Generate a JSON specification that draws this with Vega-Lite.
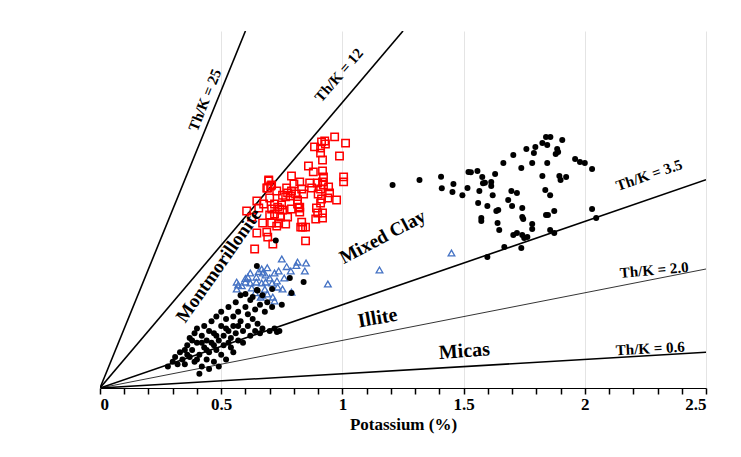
{
  "$schema": "https://vega.github.io/schema/vega-lite/v6.json",
  "width": 606,
  "height": 357,
  "autosize": {"type": "none"},
  "padding": {"left": 100, "top": 31, "right": 35, "bottom": 69},
  "background": "white",
  "config": {"view": {"stroke": null}},
  "datasets": {
    "ygrid": [{"Th":5},{"Th":10},{"Th":15}],
    "black": [
      {"K":1.207,"Th":8.53},{"K":1.318,"Th":8.74},{"K":1.407,"Th":8.88},{"K":1.41,"Th":8.39},{"K":1.458,"Th":8.57},{"K":1.454,"Th":8.24},{"K":1.495,"Th":8.1},{"K":1.516,"Th":8.4},{"K":1.52,"Th":9.08},{"K":1.53,"Th":9.06},{"K":1.557,"Th":9.12},{"K":1.577,"Th":8.87},{"K":1.58,"Th":8.6},{"K":1.588,"Th":8.62},{"K":1.565,"Th":8.28},{"K":1.614,"Th":8.66},{"K":1.63,"Th":8.99},{"K":1.614,"Th":8.49},{"K":1.62,"Th":8.1},{"K":1.56,"Th":7.77},{"K":1.598,"Th":7.65},{"K":1.573,"Th":7.14},{"K":1.573,"Th":7.02},{"K":1.635,"Th":7.44},{"K":1.643,"Th":7.48},{"K":1.64,"Th":6.93},{"K":1.647,"Th":6.64},{"K":1.664,"Th":9.45},{"K":1.705,"Th":9.79},{"K":1.738,"Th":9.24},{"K":1.697,"Th":8.28},{"K":1.72,"Th":8.19},{"K":1.684,"Th":7.9},{"K":1.7,"Th":7.65},{"K":1.742,"Th":7.56},{"K":1.742,"Th":7.18},{"K":1.746,"Th":7.1},{"K":1.705,"Th":6.43},{"K":1.72,"Th":6.51},{"K":1.742,"Th":6.43},{"K":1.75,"Th":6.3},{"K":1.763,"Th":6.34},{"K":1.668,"Th":5.92},{"K":1.598,"Th":5.5},{"K":1.738,"Th":5.88},{"K":1.759,"Th":10.04},{"K":1.79,"Th":9.87},{"K":1.796,"Th":10.13},{"K":1.783,"Th":9.45},{"K":1.825,"Th":10.29},{"K":1.84,"Th":10.55},{"K":1.858,"Th":10.55},{"K":1.845,"Th":10.21},{"K":1.845,"Th":9.45},{"K":1.825,"Th":8.91},{"K":1.837,"Th":8.32},{"K":1.857,"Th":8.1},{"K":1.84,"Th":7.27},{"K":1.848,"Th":7.27},{"K":1.874,"Th":7.44},{"K":1.857,"Th":6.64},{"K":1.874,"Th":6.51},{"K":1.907,"Th":10.42},{"K":1.886,"Th":10.04},{"K":1.89,"Th":9.92},{"K":1.88,"Th":9.83},{"K":1.895,"Th":8.91},{"K":1.9,"Th":8.74},{"K":1.923,"Th":8.87},{"K":1.96,"Th":9.62},{"K":1.98,"Th":9.5},{"K":2.0,"Th":9.45},{"K":2.03,"Th":9.2},{"K":2.03,"Th":7.52},{"K":2.047,"Th":7.14},{"K":1.783,"Th":6.89},{"K":1.783,"Th":6.68},
      {"K":0.28,"Th":0.9},{"K":0.3,"Th":1.1},{"K":0.31,"Th":1.3},{"K":0.32,"Th":1.0},{"K":0.33,"Th":1.5},{"K":0.34,"Th":1.2},{"K":0.35,"Th":1.6},{"K":0.35,"Th":1.0},{"K":0.36,"Th":1.8},{"K":0.37,"Th":1.3},{"K":0.37,"Th":2.1},{"K":0.38,"Th":1.6},{"K":0.39,"Th":2.3},{"K":0.39,"Th":1.1},{"K":0.4,"Th":1.9},{"K":0.4,"Th":2.5},{"K":0.41,"Th":0.6},{"K":0.41,"Th":1.4},{"K":0.42,"Th":2.2},{"K":0.42,"Th":0.9},{"K":0.43,"Th":1.7},{"K":0.43,"Th":2.6},{"K":0.44,"Th":1.2},{"K":0.44,"Th":2.0},{"K":0.45,"Th":2.4},{"K":0.45,"Th":1.5},{"K":0.45,"Th":0.8},{"K":0.46,"Th":1.9},{"K":0.46,"Th":2.8},{"K":0.47,"Th":1.1},{"K":0.47,"Th":2.3},{"K":0.48,"Th":1.6},{"K":0.48,"Th":3.0},{"K":0.49,"Th":2.0},{"K":0.49,"Th":0.9},{"K":0.5,"Th":2.6},{"K":0.5,"Th":1.4},{"K":0.5,"Th":3.2},{"K":0.51,"Th":1.8},{"K":0.51,"Th":2.2},{"K":0.52,"Th":2.9},{"K":0.52,"Th":1.2},{"K":0.53,"Th":2.4},{"K":0.53,"Th":3.4},{"K":0.54,"Th":1.7},{"K":0.54,"Th":2.1},{"K":0.55,"Th":3.0},{"K":0.55,"Th":2.6},{"K":0.55,"Th":1.5},{"K":0.56,"Th":3.6},{"K":0.56,"Th":2.3},{"K":0.57,"Th":2.0},{"K":0.57,"Th":3.2},{"K":0.58,"Th":2.8},{"K":0.58,"Th":3.9},{"K":0.59,"Th":2.4},{"K":0.59,"Th":1.9},{"K":0.6,"Th":3.4},{"K":0.6,"Th":3.95},{"K":0.61,"Th":2.6},{"K":0.61,"Th":3.1},{"K":0.62,"Th":2.2},{"K":0.62,"Th":3.7},{"K":0.63,"Th":3.82},{"K":0.63,"Th":2.9},{"K":0.64,"Th":2.4},{"K":0.64,"Th":3.3},{"K":0.65,"Th":4.1},{"K":0.65,"Th":2.7},{"K":0.66,"Th":3.5},{"K":0.66,"Th":2.3},{"K":0.67,"Th":3.9},{"K":0.67,"Th":2.5},{"K":0.68,"Th":3.2},{"K":0.69,"Th":3.6},{"K":0.7,"Th":2.4},{"K":0.71,"Th":3.4},{"K":0.71,"Th":4.16},{"K":0.72,"Th":2.5},{"K":0.73,"Th":2.35},{"K":0.74,"Th":2.4},{"K":0.75,"Th":3.5},{"K":0.79,"Th":3.99},{"K":0.783,"Th":4.62},{"K":0.84,"Th":4.45},{"K":0.647,"Th":5.13},{"K":0.647,"Th":4.12},{"K":0.725,"Th":6.2},{"K":0.38,"Th":2.0},{"K":0.42,"Th":1.9},{"K":0.47,"Th":1.8},{"K":0.52,"Th":2.5},{"K":0.57,"Th":2.6},{"K":0.36,"Th":1.4},{"K":0.4,"Th":1.2},{"K":0.44,"Th":1.6},{"K":0.48,"Th":2.2},{"K":0.53,"Th":1.9}
    ],
    "red": [
      {"K":0.968,"Th":10.55},{"K":1.013,"Th":10.29},{"K":0.927,"Th":10.38},{"K":0.914,"Th":10.34},{"K":0.93,"Th":10.25},{"K":0.885,"Th":10.13},{"K":0.91,"Th":10.08},{"K":0.91,"Th":9.87},{"K":0.988,"Th":9.75},{"K":0.918,"Th":9.58},{"K":0.86,"Th":9.33},{"K":0.88,"Th":9.08},{"K":0.918,"Th":9.12},{"K":0.922,"Th":8.87},{"K":1.005,"Th":8.87},{"K":1.005,"Th":8.66},{"K":0.79,"Th":8.91},{"K":0.824,"Th":8.66},{"K":0.8,"Th":8.57},{"K":0.865,"Th":8.61},{"K":0.898,"Th":8.61},{"K":0.918,"Th":8.66},{"K":0.922,"Th":8.53},{"K":0.943,"Th":8.45},{"K":0.947,"Th":8.2},{"K":0.91,"Th":8.36},{"K":0.9,"Th":8.15},{"K":0.873,"Th":8.4},{"K":0.832,"Th":8.36},{"K":0.696,"Th":8.7},{"K":0.704,"Th":8.49},{"K":0.729,"Th":8.28},{"K":0.692,"Th":8.4},{"K":0.77,"Th":8.4},{"K":0.774,"Th":8.2},{"K":0.753,"Th":8.1},{"K":0.766,"Th":8.03},{"K":0.79,"Th":8.28},{"K":0.786,"Th":8.07},{"K":0.807,"Th":8.15},{"K":0.815,"Th":7.9},{"K":0.976,"Th":7.9},{"K":0.914,"Th":7.94},{"K":0.91,"Th":7.77},{"K":0.647,"Th":7.86},{"K":0.675,"Th":7.73},{"K":0.7,"Th":7.98},{"K":0.72,"Th":7.73},{"K":0.733,"Th":7.6},{"K":0.749,"Th":7.69},{"K":0.741,"Th":7.52},{"K":0.605,"Th":7.44},{"K":0.626,"Th":7.18},{"K":0.655,"Th":7.56},{"K":0.708,"Th":7.52},{"K":0.753,"Th":7.48},{"K":0.79,"Th":7.52},{"K":0.72,"Th":7.31},{"K":0.7,"Th":7.27},{"K":0.745,"Th":7.18},{"K":0.774,"Th":7.18},{"K":0.824,"Th":7.6},{"K":0.824,"Th":7.39},{"K":0.893,"Th":7.56},{"K":0.898,"Th":7.35},{"K":0.918,"Th":7.35},{"K":0.918,"Th":7.14},{"K":0.89,"Th":7.1},{"K":0.671,"Th":6.93},{"K":0.708,"Th":6.93},{"K":0.729,"Th":6.8},{"K":0.737,"Th":6.93},{"K":0.766,"Th":6.89},{"K":0.832,"Th":6.97},{"K":0.828,"Th":6.76},{"K":0.836,"Th":6.76},{"K":0.848,"Th":6.76},{"K":0.647,"Th":6.51},{"K":0.688,"Th":6.55},{"K":0.692,"Th":6.34},{"K":0.713,"Th":6.05},{"K":0.848,"Th":6.18},{"K":0.638,"Th":5.84},{"K":0.696,"Th":8.74},{"K":0.708,"Th":8.53},{"K":0.688,"Th":8.4},{"K":0.84,"Th":8.15},{"K":0.815,"Th":7.73},{"K":0.82,"Th":7.56},{"K":0.94,"Th":7.98}
    ],
    "blue": [
      {"K":0.75,"Th":5.42},{"K":0.815,"Th":5.29},{"K":0.85,"Th":5.25},{"K":0.845,"Th":4.92},{"K":0.787,"Th":4.92},{"K":0.737,"Th":4.92},{"K":0.72,"Th":4.83},{"K":0.667,"Th":5.0},{"K":0.671,"Th":4.83},{"K":0.62,"Th":4.83},{"K":0.61,"Th":4.66},{"K":0.645,"Th":4.66},{"K":0.683,"Th":4.75},{"K":0.7,"Th":4.62},{"K":0.73,"Th":4.5},{"K":0.564,"Th":4.45},{"K":0.57,"Th":4.33},{"K":0.564,"Th":4.16},{"K":0.6,"Th":4.45},{"K":0.62,"Th":4.41},{"K":0.645,"Th":4.45},{"K":0.667,"Th":4.41},{"K":0.683,"Th":4.45},{"K":0.71,"Th":4.41},{"K":0.76,"Th":4.62},{"K":0.733,"Th":4.24},{"K":0.753,"Th":4.16},{"K":0.626,"Th":4.2},{"K":0.67,"Th":3.9},{"K":0.69,"Th":3.95},{"K":0.663,"Th":3.82},{"K":0.713,"Th":3.82},{"K":0.72,"Th":3.66},{"K":0.79,"Th":4.03},{"K":0.94,"Th":4.37},{"K":1.153,"Th":4.96},{"K":1.45,"Th":5.67},{"K":0.655,"Th":4.9},{"K":0.69,"Th":5.05},{"K":0.6,"Th":4.6},{"K":0.585,"Th":4.3},{"K":0.64,"Th":4.0},{"K":0.68,"Th":4.15},{"K":0.77,"Th":5.1},{"K":0.81,"Th":5.15}
    ],
    "lines": [
      {"line":"25","K":0,"Th":0},{"line":"25","K":0.6,"Th":15},
      {"line":"12","K":0,"Th":0},{"line":"12","K":1.25,"Th":15},
      {"line":"3.5","K":0,"Th":0},{"line":"3.5","K":2.5,"Th":8.75},
      {"line":"2.0","K":0,"Th":0},{"line":"2.0","K":2.5,"Th":5},
      {"line":"0.6","K":0,"Th":0},{"line":"0.6","K":2.5,"Th":1.5}
    ]
  },
  "encoding": {
    "x": {
      "field": "K", "type": "quantitative",
      "scale": {"domain": [0, 2.5], "nice": false, "zero": false},
      "axis": {
        "title": "Potassium (%)",
        "values": [0,0.1,0.2,0.3,0.4,0.5,0.6,0.7,0.8,0.9,1,1.1,1.2,1.3,1.4,1.5,1.6,1.7,1.8,1.9,2,2.1,2.2,2.3,2.4,2.5],
        "labelExpr": "abs(datum.value*2 - round(datum.value*2)) < 0.01 ? format(datum.value, '~g') : ''",
        "labelFont": "Liberation Serif", "labelFontWeight": "bold", "labelFontSize": 17, "labelColor": "black",
        "titleFont": "Liberation Serif", "titleFontWeight": "bold", "titleFontSize": 17, "titleColor": "black",
        "domainColor": "black",
        "ticks": true, "tickColor": "black", "tickSize": 6, "tickWidth": 1.5,
        "grid": true, "gridColor": "#e4e4e4",
        "gridOpacity": {"condition": {"test": "abs(datum.value*2 - round(datum.value*2)) < 0.01 && datum.value > 0", "value": 1}, "value": 0}
      }
    },
    "y": {
      "field": "Th", "type": "quantitative",
      "scale": {"domain": [0, 15], "nice": false},
      "axis": {
        "title": "Thorium (ppm)",
        "values": [0,1,2,3,4,5,6,7,8,9,10,11,12,13,14,15],
        "labelExpr": "datum.value % 5 == 0 ? datum.label : ''",
        "labelFont": "Liberation Serif", "labelFontWeight": "bold", "labelFontSize": 17, "labelColor": "black",
        "titleFont": "Liberation Serif", "titleFontWeight": "bold", "titleFontSize": 17, "titleColor": "black", "titlePadding": 10,
        "domainColor": "black",
        "ticks": true, "tickColor": "black", "tickSize": 6, "tickWidth": 1.5,
        "grid": false
      }
    }
  },
  "layer": [
    {"data": {"name": "ygrid"}, "mark": {"type": "rule", "color": "#e4e4e4", "strokeWidth": 1},
     "encoding": {"x": {"datum": 0}, "x2": {"datum": 2.5}, "y": {"field": "Th", "type": "quantitative", "scale": {"domain": [0, 15], "nice": false}, "axis": null}}},
    {"data": {"name": "lines"}, "transform": [{"filter": "datum.line != '2.0'"}], "mark": {"type": "line", "color": "black", "strokeWidth": 1.6, "clip": true}, "encoding": {"detail": {"field": "line"}}},
    {"data": {"name": "lines"}, "transform": [{"filter": "datum.line == '2.0'"}], "mark": {"type": "line", "color": "black", "strokeWidth": 0.8, "clip": true}, "encoding": {"detail": {"field": "line"}}},
    {"data": {"name": "red"}, "mark": {"type": "point", "shape": "square", "filled": false, "color": "#FF0000", "size": 55, "strokeWidth": 1.5, "opacity": 1}},
    {"data": {"name": "blue"}, "mark": {"type": "point", "shape": "triangle-up", "filled": false, "color": "#4472C4", "size": 45, "strokeWidth": 1.3, "opacity": 1}},
    {"data": {"name": "black"}, "mark": {"type": "circle", "color": "black", "size": 36, "opacity": 1}},
    {"data": {"values": [{"label": "Th/K = 25", "K": 0.432, "Th": 12.1}]}, "mark": {"type": "text", "angle": 292, "font": "Liberation Serif", "fontWeight": "bold", "fontSize": 15, "color": "black"}, "encoding": {"text": {"field": "label"}}},
    {"data": {"values": [{"label": "Th/K = 12", "K": 0.985, "Th": 13.15}]}, "mark": {"type": "text", "angle": 311, "font": "Liberation Serif", "fontWeight": "bold", "fontSize": 15, "color": "black"}, "encoding": {"text": {"field": "label"}}},
    {"data": {"values": [{"label": "Montmorillonite", "K": 0.49, "Th": 5.15}]}, "mark": {"type": "text", "angle": 305, "font": "Liberation Serif", "fontWeight": "bold", "fontSize": 19, "color": "black"}, "encoding": {"text": {"field": "label"}}},
    {"data": {"values": [{"label": "Mixed Clay", "K": 1.166, "Th": 6.35}]}, "mark": {"type": "text", "angle": 332, "font": "Liberation Serif", "fontWeight": "bold", "fontSize": 19, "color": "black"}, "encoding": {"text": {"field": "label"}}},
    {"data": {"values": [{"label": "Illite", "K": 1.145, "Th": 2.94}]}, "mark": {"type": "text", "angle": 350, "font": "Liberation Serif", "fontWeight": "bold", "fontSize": 20, "color": "black"}, "encoding": {"text": {"field": "label"}}},
    {"data": {"values": [{"label": "Micas", "K": 1.503, "Th": 1.55}]}, "mark": {"type": "text", "angle": 356, "font": "Liberation Serif", "fontWeight": "bold", "fontSize": 20, "color": "black"}, "encoding": {"text": {"field": "label"}}},
    {"data": {"values": [{"label": "Th/K = 3.5", "K": 2.265, "Th": 8.95}]}, "mark": {"type": "text", "angle": 341, "font": "Liberation Serif", "fontWeight": "bold", "fontSize": 15, "color": "black"}, "encoding": {"text": {"field": "label"}}},
    {"data": {"values": [{"label": "Th/K = 2.0", "K": 2.286, "Th": 4.96}]}, "mark": {"type": "text", "angle": 355, "font": "Liberation Serif", "fontWeight": "bold", "fontSize": 15, "color": "black"}, "encoding": {"text": {"field": "label"}}},
    {"data": {"values": [{"label": "Th/K = 0.6", "K": 2.27, "Th": 1.66}]}, "mark": {"type": "text", "angle": 357, "font": "Liberation Serif", "fontWeight": "bold", "fontSize": 15, "color": "black"}, "encoding": {"text": {"field": "label"}}}
  ]
}
